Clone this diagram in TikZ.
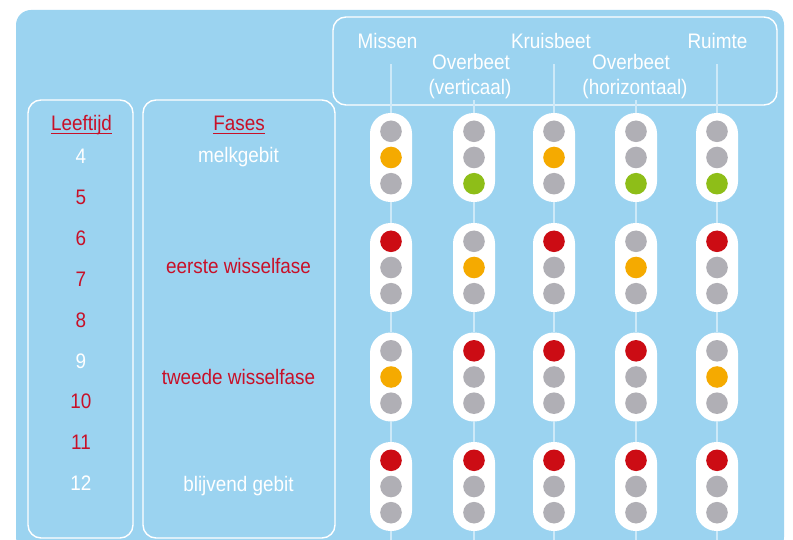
\documentclass[tikz,border=0pt]{standalone}
\usepackage{fontspec}
\setmainfont{Liberation Sans}[FakeStretch=0.9]
\definecolor{bgblue}{RGB}{155,211,240}
\definecolor{wireblue}{RGB}{205,233,248}
\definecolor{tred}{RGB}{200,16,40}
\definecolor{lred}{RGB}{204,12,20}
\definecolor{lgrey}{RGB}{176,175,181}
\definecolor{lorange}{RGB}{245,170,0}
\definecolor{lgreen}{RGB}{142,190,24}
\newcommand{\tlight}[6]{%
  \node[housing] (#1) at (#2,#3) {};
  \node[lamp=#4] (#1-1) at (#2,#3-26.2) {};
  \node[lamp=#5] (#1-2) at (#2,#3) {};
  \node[lamp=#6] (#1-3) at (#2,#3+26.2) {};
}
\begin{document}
\begin{tikzpicture}[x=1pt,y=-1pt,
  frame/.style={draw=white, line width=1.4pt, rounded corners=13pt, inner sep=0pt},
  lbl/.style={anchor=base, inner sep=0pt, font=\fontsize{21}{24}\selectfont},
  wlbl/.style={lbl, text=white},
  rlbl/.style={lbl, text=tred},
  uline/.style={draw=tred, line width=1.4pt},
  wire/.style={draw=wireblue, line width=1.5pt},
  housing/.style={fill=white, rounded corners=20.5pt, minimum width=42pt, minimum height=89pt, inner sep=0pt},
  lamp/.style={circle, inner sep=0pt, minimum size=21.6pt, fill=#1},
]
\useasboundingbox (0,0) rectangle (793,540);
\fill[bgblue, rounded corners=15pt] (16,10) rectangle (784,552);

% frames
\node[frame, minimum width=444pt, minimum height=88pt] (hdr) at (555,61) {};
\node[frame, minimum width=105pt, minimum height=438pt] (agebox) at (80.5,319) {};
\node[frame, minimum width=192pt, minimum height=438pt] (phasebox) at (239,319) {};

% header labels
\node[wlbl] (missen) at (387.5,49) {Missen};
\node[wlbl] (kruis) at (551,49) {Kruisbeet};
\node[wlbl] (ruimte) at (717.5,49) {Ruimte};
\node[wlbl] (ovv1) at (471,70) {Overbeet};
\node[wlbl] (ovv2) at (470,95) {(verticaal)};
\node[wlbl] (ovh1) at (631,70) {Overbeet};
\node[wlbl] (ovh2) at (635,95) {(horizontaal)};

% wire tops / bottoms
\coordinate (t1) at (391,64);
\coordinate (t2) at (474,100);
\coordinate (t3) at (554,64);
\coordinate (t4) at (636,100);
\coordinate (t5) at (717,64);
\coordinate (b1) at (391,545);
\coordinate (b2) at (474,545);
\coordinate (b3) at (554,545);
\coordinate (b4) at (636,545);
\coordinate (b5) at (717,545);

% column headings
\node[rlbl] (leeftijd) at (81.5,131) {Leeftijd};
\draw[uline] ([yshift=-2.6pt]leeftijd.base west) -- ([yshift=-2.6pt]leeftijd.base east);
\node[rlbl] (fases) at (239,131) {Fases};
\draw[uline] ([yshift=-2.6pt]fases.base west) -- ([yshift=-2.6pt]fases.base east);

% ages
\foreach \a/\c [count=\i from 0] in {4/white,5/tred,6/tred,7/tred,8/tred,9/white,10/tred,11/tred,12/white}
  \node[lbl, text=\c] (age\a) at (81,164+40.8*\i) {\a};

% phases
\node[wlbl] (melk) at (238.5,163) {melkgebit};
\node[rlbl] (eerste) at (238.5,274) {eerste wisselfase};
\node[rlbl] (tweede) at (238.5,384) {tweede wisselfase};
\node[wlbl] (blijvend) at (238.5,491) {blijvend gebit};

% traffic lights: row 1
\tlight{h11}{391}{157.5}{lgrey}{lorange}{lgrey}
\tlight{h21}{474}{157.5}{lgrey}{lgrey}{lgreen}
\tlight{h31}{554}{157.5}{lgrey}{lorange}{lgrey}
\tlight{h41}{636}{157.5}{lgrey}{lgrey}{lgreen}
\tlight{h51}{717}{157.5}{lgrey}{lgrey}{lgreen}
% row 2
\tlight{h12}{391}{267.5}{lred}{lgrey}{lgrey}
\tlight{h22}{474}{267.5}{lgrey}{lorange}{lgrey}
\tlight{h32}{554}{267.5}{lred}{lgrey}{lgrey}
\tlight{h42}{636}{267.5}{lgrey}{lorange}{lgrey}
\tlight{h52}{717}{267.5}{lred}{lgrey}{lgrey}
% row 3
\tlight{h13}{391}{377}{lgrey}{lorange}{lgrey}
\tlight{h23}{474}{377}{lred}{lgrey}{lgrey}
\tlight{h33}{554}{377}{lred}{lgrey}{lgrey}
\tlight{h43}{636}{377}{lred}{lgrey}{lgrey}
\tlight{h53}{717}{377}{lgrey}{lorange}{lgrey}
% row 4
\tlight{h14}{391}{486.5}{lred}{lgrey}{lgrey}
\tlight{h24}{474}{486.5}{lred}{lgrey}{lgrey}
\tlight{h34}{554}{486.5}{lred}{lgrey}{lgrey}
\tlight{h44}{636}{486.5}{lred}{lgrey}{lgrey}
\tlight{h54}{717}{486.5}{lred}{lgrey}{lgrey}

% wires
\foreach \c in {1,...,5}{
  \draw[wire] (t\c) -- (h\c1.north);
  \draw[wire] (h\c1.south) -- (h\c2.north);
  \draw[wire] (h\c2.south) -- (h\c3.north);
  \draw[wire] (h\c3.south) -- (h\c4.north);
  \draw[wire] (h\c4.south) -- (b\c);
}
\end{tikzpicture}
\end{document}
